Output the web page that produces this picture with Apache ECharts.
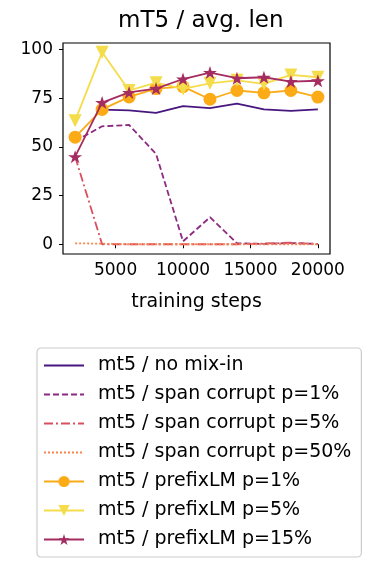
<!DOCTYPE html>
<html>
<head>
<meta charset="utf-8">
<script src="https://cdn.jsdelivr.net/npm/echarts@6/dist/echarts.min.js"></script>
<style>
    html, body { margin: 0; padding: 0; background: #fff; }
    #main { width: 374px; height: 564px; }
</style>
</head>
<body>
<div id="main"></div>
<script>
var steps = [2000, 4000, 6000, 8000, 10000, 12000, 14000, 16000, 18000, 20000];
var noMixIn = [null, 69.2, 68.8, 67.5, 71.0, 69.9, 72.3, 69.3, 68.5, 69.3];
var span1 = [53, 60.6, 61.3, 46.4, 1.5, 13.9, 0.5, 0.2, 0.6, 0.2];
var span5 = [45, 0, 0, 0, 0, 0, 0, 0.4, 0.8, 0];
var span50 = [0.5, 0.3, 0, 0, 0, 0, 0, 0, 0, 0];
var prefix1 = [55.0, 69.3, 75.7, 80.0, 81.0, 74.5, 79.0, 77.8, 79.0, 75.6];
var prefix5 = [63.5, 98.6, 79.0, 83.0, 79.8, 82.7, 84.2, 82.4, 87.0, 85.8];
var prefix15 = [45.0, 72.8, 78.0, 80.0, 84.9, 88.2, 85.3, 85.8, 83.6, 84.0];
var xTicks = [5000, 10000, 15000, 20000];
var yTicks = [0, 25, 50, 75, 100];

var names = ['mt5 / no mix-in', 'mt5 / span corrupt p=1%', 'mt5 / span corrupt p=5%',
    'mt5 / span corrupt p=50%', 'mt5 / prefixLM p=1%', 'mt5 / prefixLM p=5%', 'mt5 / prefixLM p=15%'];
var colors = ['#47167e', '#8c2981', '#d94f5c', '#f8834c', '#fcab17', '#f5dc4a', '#a52c60'];
var starPath = 'path://M0,-1L0.225,-0.309L0.951,-0.309L0.363,0.118L0.588,0.809L0,0.382L-0.588,0.809L-0.363,0.118L-0.951,-0.309L-0.225,-0.309Z';

function pairs(vals) {
    var out = [];
    for (var i = 0; i < steps.length; i++) {
        out.push([steps[i], vals[i]]);
    }
    return out;
}

function lineSeries(idx, vals, type, symbol, size, rotate) {
    return {
        name: names[idx],
        type: 'line',
        data: pairs(vals),
        connectNulls: false,
        symbol: symbol || 'none',
        symbolSize: size || 0,
        symbolRotate: rotate || 0,
        showSymbol: !!symbol,
        color: colors[idx],
        itemStyle: {color: colors[idx], borderWidth: 0},
        lineStyle: {color: colors[idx], width: 1.8, type: type},
        animation: false,
        z: 2 + idx
    };
}

// 前四条没有标记点，图例里只留线
var legendData = [];
for (var i = 0; i < names.length; i++) {
    legendData.push(i < 4 ? {name: names[i], itemStyle: {opacity: 0}} : {name: names[i]});
}

var font = 'DejaVu Sans';
var myChart = echarts.init(document.getElementById('main'));
var option = {
    animation: false,
    title: {
        text: 'mT5 / avg. len',
        left: 113,
        top: 5,
        textStyle: {fontFamily: font, fontSize: 23, fontWeight: 'normal', color: '#000'}
    },
    grid: {
        left: 63, top: 43, right: 44, bottom: 310,
        show: true, borderColor: '#000', borderWidth: 1.2, backgroundColor: '#fff'
    },
    legend: {
        orient: 'vertical',
        left: 37,
        top: 348,
        width: 322,
        padding: [8, 10, 8, 6],
        itemWidth: 40,
        itemHeight: 14,
        itemGap: 10,
        backgroundColor: '#fff',
        borderColor: '#cccccc',
        borderWidth: 1.2,
        borderRadius: 4,
        textStyle: {fontFamily: font, fontSize: 19, color: '#000', padding: [0, 0, 0, 9], lineHeight: 18},
        data: legendData
    },
    xAxis: {
        type: 'value',
        min: 1100,
        max: 20900,
        name: 'training steps',
        nameLocation: 'middle',
        nameGap: 39,
        nameTextStyle: {fontFamily: font, fontSize: 19, color: '#000'},
        splitLine: {show: false},
        axisLine: {show: false},
        axisTick: {show: true, inside: false, length: 4, customValues: xTicks, lineStyle: {color: '#000', width: 1}},
        axisLabel: {
            customValues: xTicks, fontFamily: font, fontSize: 17, color: '#000', margin: 8,
            formatter: function (v) { return String(v); }
        }
    },
    yAxis: {
        type: 'value',
        min: -5,
        max: 103.4,
        splitLine: {show: false},
        axisLine: {show: false},
        axisTick: {show: true, inside: false, length: 4, customValues: yTicks, lineStyle: {color: '#000', width: 1}},
        axisLabel: {
            customValues: yTicks, fontFamily: font, fontSize: 17, color: '#000', margin: 10,
            formatter: function (v) { return String(v); }
        }
    },
    series: [
        lineSeries(0, noMixIn, 'solid'),
        lineSeries(1, span1, [6, 3]),
        lineSeries(2, span5, [9, 3, 2, 3]),
        lineSeries(3, span50, [2, 2]),
        lineSeries(4, prefix1, 'solid', 'circle', 13),
        lineSeries(5, prefix5, 'solid', 'triangle', 13, 180),
        lineSeries(6, prefix15, 'solid', starPath, [14, 13])
    ]
};
myChart.setOption(option);
</script>
</body>
</html>
